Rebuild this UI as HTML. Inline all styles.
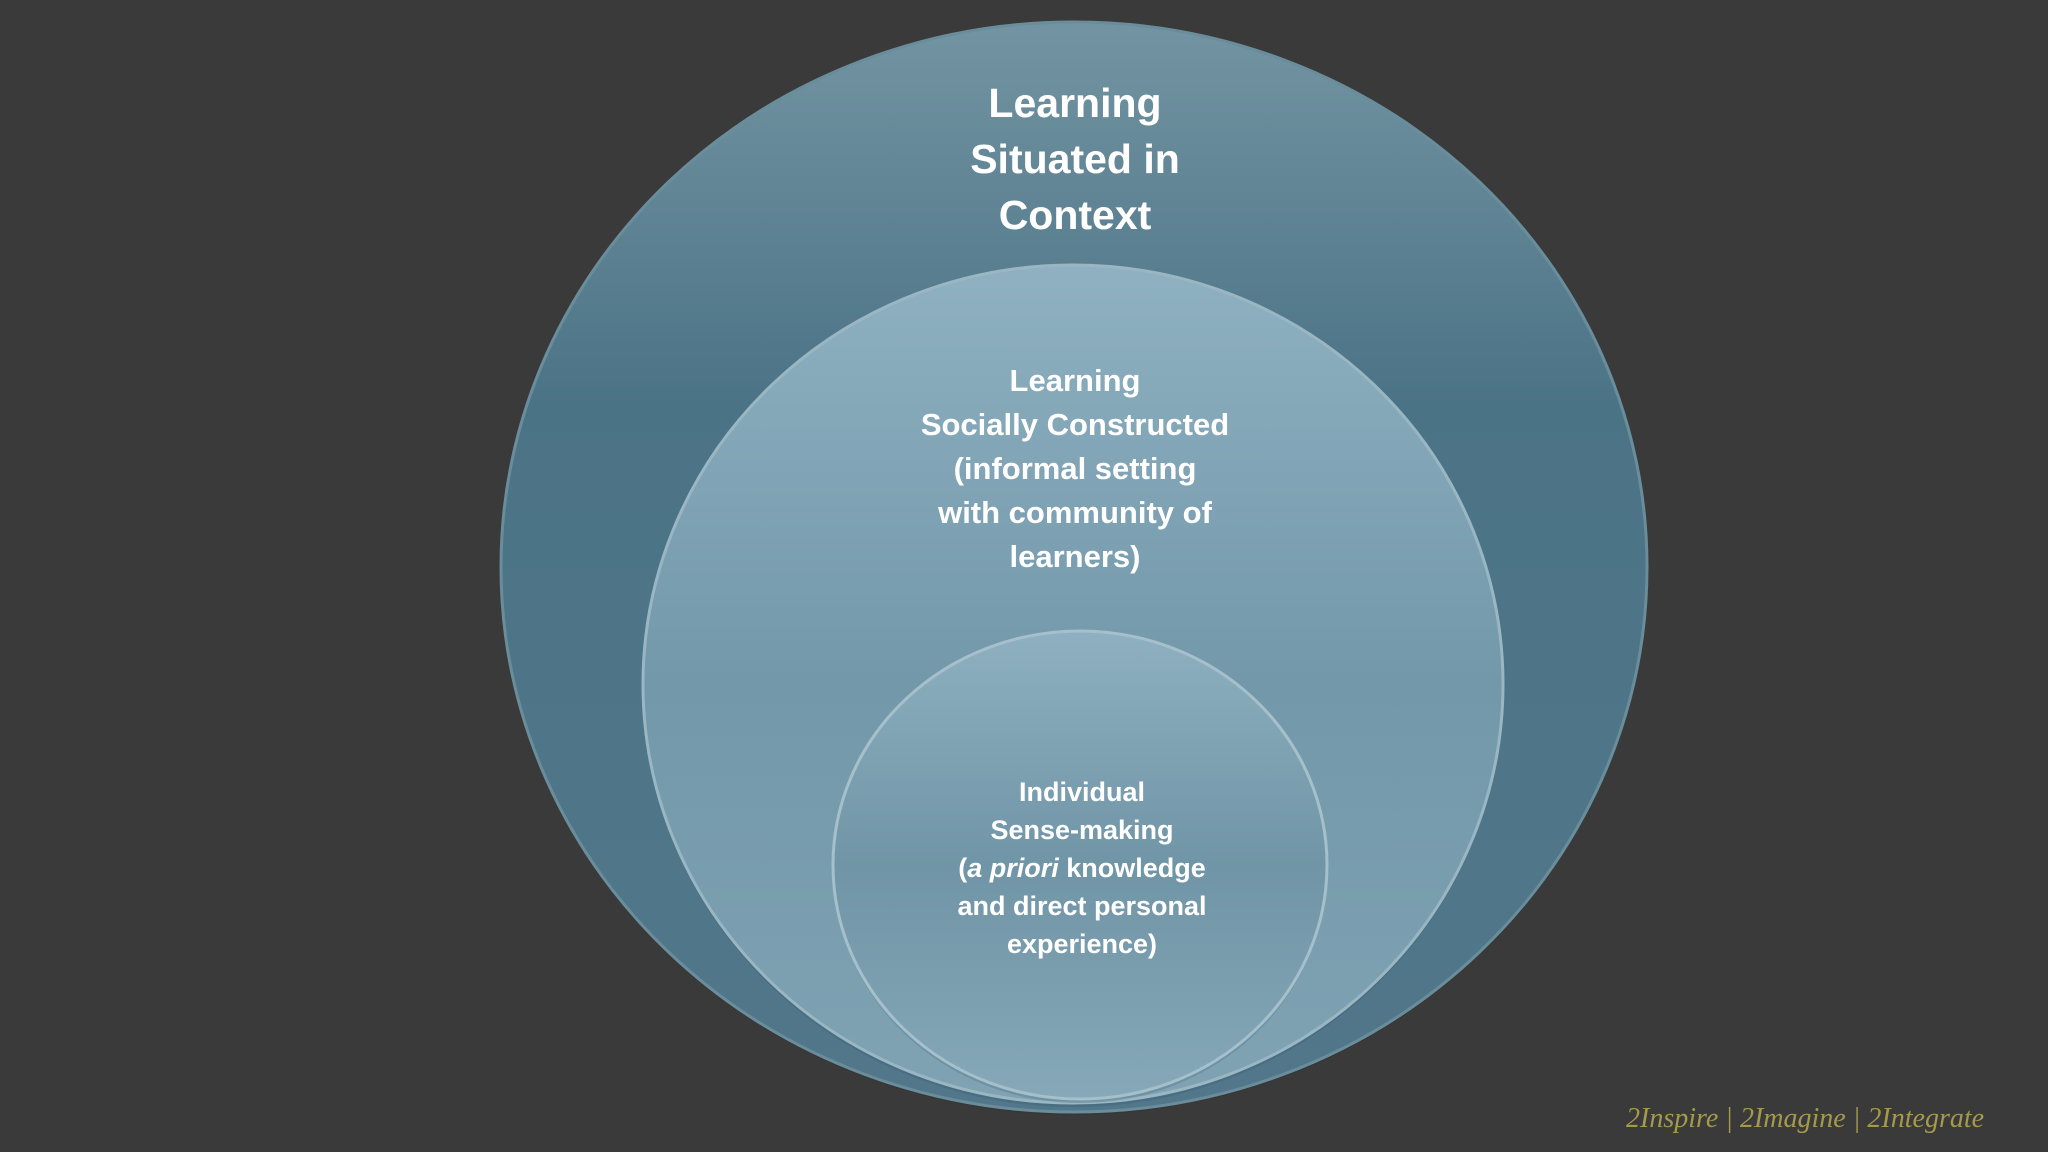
<!DOCTYPE html>
<html><head><meta charset="utf-8"><style>
html,body{margin:0;padding:0;background:#3a3a3a;}
svg{display:block}
</style></head><body>
<svg width="2048" height="1152" viewBox="0 0 2048 1152" xmlns="http://www.w3.org/2000/svg">
<defs>
<linearGradient id="g1" x1="0" y1="0" x2="0" y2="1">
<stop offset="0" stop-color="#7394a2"/><stop offset="0.35" stop-color="#4b7386"/><stop offset="1" stop-color="#52778a"/>
</linearGradient>
<linearGradient id="g2" x1="0" y1="0" x2="0" y2="1">
<stop offset="0" stop-color="#8fb1c1"/><stop offset="0.5" stop-color="#7298aa"/><stop offset="1" stop-color="#80a3b3"/>
</linearGradient>
<linearGradient id="g3" x1="0" y1="0" x2="0" y2="1">
<stop offset="0" stop-color="#8eb0c0"/><stop offset="0.5" stop-color="#7095a6"/><stop offset="1" stop-color="#86a8b8"/>
</linearGradient>
</defs>
<rect width="2048" height="1152" fill="#3a3a3a"/>
<ellipse cx="1074" cy="570" rx="573" ry="545" fill="#333" opacity="0.5"/>
<ellipse cx="1074" cy="567" rx="573" ry="545" fill="url(#g1)" stroke="#6a8d9c" stroke-width="3"/>
<ellipse cx="1073" cy="688" rx="430" ry="419" fill="#3f6477" opacity="0.5"/>
<ellipse cx="1073" cy="684" rx="430" ry="419" fill="url(#g2)" stroke="#9ab6c3" stroke-width="3"/>
<ellipse cx="1080" cy="869" rx="247" ry="234" fill="#5b8193" opacity="0.5"/>
<ellipse cx="1080" cy="865" rx="247" ry="234" fill="url(#g3)" stroke="#a5bfcb" stroke-width="3"/>
<g font-family="Liberation Sans, sans-serif" font-weight="bold" fill="#ffffff" text-anchor="middle">
<g font-size="41">
<text x="1075" y="117">Learning</text>
<text x="1075" y="173">Situated in</text>
<text x="1075" y="229">Context</text>
</g>
<g font-size="31">
<text x="1075" y="391">Learning</text>
<text x="1075" y="435">Socially Constructed</text>
<text x="1075" y="479">(informal setting</text>
<text x="1075" y="523">with community of</text>
<text x="1075" y="567">learners)</text>
</g>
<g font-size="27">
<text x="1082" y="801">Individual</text>
<text x="1082" y="839">Sense-making</text>
<text x="1082" y="877">(<tspan font-style="italic">a priori</tspan> knowledge</text>
<text x="1082" y="915">and direct personal</text>
<text x="1082" y="953">experience)</text>
</g>
</g>
<text x="1626" y="1127" font-family="Liberation Serif, serif" font-style="italic" font-size="28" fill="#a59a4a">2Inspire | 2Imagine | 2Integrate</text>
</svg>
</body></html>
